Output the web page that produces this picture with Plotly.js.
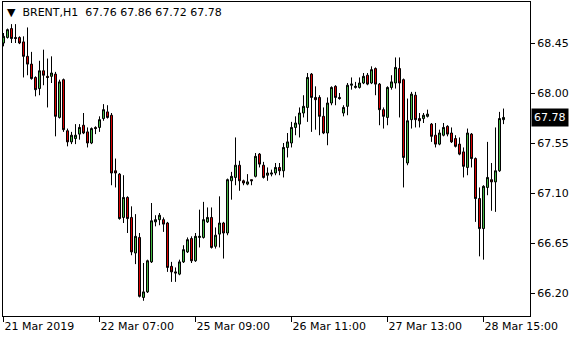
<!DOCTYPE html>
<html>
<head>
<meta charset="utf-8">
<script src="https://cdn.plot.ly/plotly-3.0.1.min.js"></script>
<style>
html,body{margin:0;padding:0;background:#fff;}
#chart{width:580px;height:340px;}
</style>
</head>
<body>
<div id="chart"></div>
<script>
// BRENT, H1 — hourly bars (bar index), 21 Mar 2019 .. 28 Mar 2019
const symbolTitle = "BRENT,H1";
const lastOHLC = ["67.76", "67.86", "67.72", "67.78"];

const open = [
 68.45,68.50,68.58,68.50,68.50,68.46,68.33,68.26,68.14,68.04,
 68.20,68.15,68.15,68.17,67.78,68.12,67.66,67.56,67.59,67.63,
 67.71,67.65,67.55,67.69,67.69,67.77,67.83,67.80,67.30,67.27,
 66.88,67.06,66.88,66.56,66.70,66.16,66.21,66.48,66.84,66.86,
 66.86,66.83,66.44,66.39,66.37,66.48,66.57,66.69,66.49,66.70,
 66.70,66.84,66.88,66.62,66.73,66.83,66.74,67.21,67.24,67.35,
 67.21,67.18,67.22,67.25,67.45,67.35,67.26,67.27,67.28,67.33,
 67.30,67.51,67.55,67.69,67.72,67.82,67.87,68.17,67.96,67.96,
 67.79,67.64,67.91,68.06,67.96,67.82,67.88,68.07,68.05,68.05,
 68.09,68.16,68.09,68.22,68.08,67.85,67.78,68.05,68.09,68.22,
 68.12,67.37,67.76,67.98,67.77,67.77,67.79,67.72,67.62,67.54,
 67.62,67.70,67.64,67.59,67.54,67.47,67.33,67.63,67.41,67.05,
 66.78,67.15,67.22,67.20,67.30,67.76
];
const high = [
 68.54,68.58,68.62,68.62,68.51,68.51,68.59,68.37,68.15,68.29,
 68.39,68.31,68.33,68.19,68.12,68.13,67.68,67.65,67.72,67.72,
 67.82,67.69,67.69,67.70,67.79,67.90,67.89,67.82,67.41,67.28,
 67.26,67.07,66.98,66.91,66.74,66.47,66.50,67.01,66.90,66.92,
 66.88,66.84,66.48,66.43,66.50,66.63,66.70,66.71,66.74,66.95,
 67.02,66.97,66.97,66.79,67.07,66.84,67.23,67.29,67.60,67.39,
 67.22,67.27,67.22,67.46,67.46,67.38,67.33,67.31,67.37,67.37,
 67.55,67.64,67.74,67.79,67.87,67.98,68.18,68.18,68.06,67.98,
 67.87,67.96,68.06,68.07,68.00,67.89,68.09,68.14,68.10,68.14,
 68.18,68.18,68.24,68.23,68.09,67.87,68.06,68.16,68.32,68.32,
 68.13,67.95,68.01,68.01,67.82,67.82,67.85,67.73,67.73,67.67,
 67.73,67.71,67.69,67.62,67.60,67.51,67.68,67.64,67.42,67.15,
 67.17,67.56,67.37,67.69,67.83,67.86
];
const low = [
 68.42,68.49,68.45,68.45,68.44,68.14,68.16,68.12,67.97,67.98,
 68.07,67.87,68.09,67.61,67.77,67.65,67.52,67.54,67.54,67.58,
 67.63,67.51,67.54,67.63,67.65,67.75,67.77,67.17,67.15,66.86,
 66.83,66.74,66.54,66.46,66.16,66.13,66.20,66.47,66.80,66.81,
 66.75,66.39,66.30,66.30,66.36,66.47,66.56,66.47,66.48,66.61,
 66.69,66.83,66.60,66.60,66.61,66.51,66.72,67.04,67.17,67.12,
 67.17,67.17,67.17,67.24,67.33,67.23,67.21,67.25,67.26,67.26,
 67.24,67.42,67.51,67.62,67.60,67.78,67.74,67.65,67.67,67.62,
 67.63,67.53,67.89,67.89,67.94,67.79,67.80,68.03,68.04,68.04,
 68.08,68.07,68.08,67.98,67.71,67.68,67.71,68.03,68.04,67.78,
 67.15,67.35,67.68,67.69,67.69,67.73,67.78,67.56,67.51,67.53,
 67.61,67.61,67.55,67.51,67.44,67.24,67.26,67.33,66.84,66.53,
 66.50,67.08,66.94,66.93,67.29,67.72
];
const close = [
 68.51,68.57,68.49,68.49,68.45,68.33,68.26,68.13,68.03,68.20,
 68.16,68.14,68.18,67.79,68.10,67.67,67.56,67.62,67.62,67.69,
 67.64,67.55,67.68,67.68,67.76,67.85,67.78,67.28,67.28,66.87,
 67.06,66.87,66.57,66.71,66.17,66.21,66.49,66.85,66.86,66.90,
 66.82,66.43,66.39,66.38,66.48,66.59,66.68,66.49,66.71,66.71,
 66.86,66.88,66.61,66.72,66.83,66.74,67.22,67.25,67.35,67.21,
 67.19,67.20,67.21,67.43,67.36,67.24,67.28,67.28,67.33,67.30,
 67.51,67.56,67.69,67.73,67.82,67.88,68.14,67.96,67.94,67.79,
 67.64,67.91,68.05,67.96,67.95,67.87,68.07,68.08,68.06,68.09,
 68.15,68.08,68.21,68.08,67.85,67.79,68.05,68.10,68.23,68.09,
 67.42,67.75,67.99,67.76,67.75,67.80,67.81,67.61,67.54,67.64,
 67.69,67.63,67.56,67.52,67.45,67.34,67.64,67.41,67.05,66.78,
 67.16,67.24,67.20,67.30,67.77,67.78
];

const tickBars = [0, 24, 48, 72, 96, 120];
const tickLabels = ["21 Mar 2019", "22 Mar 07:00", "25 Mar 09:00", "26 Mar 11:00", "27 Mar 13:00", "28 Mar 15:00"];
const priceTicks = [66.20, 66.65, 67.10, 67.55, 68.00, 68.45];

const bars = open.map((_, i) => i);
const FONT = "DejaVu Sans, sans-serif";

const trace = {
  type: "candlestick",
  x: bars, open: open, high: high, low: low, close: close,
  increasing: {line: {color: "#000000", width: 1}, fillcolor: "#44b944"},
  decreasing: {line: {color: "#000000", width: 1}, fillcolor: "#d80000"},
  whiskerwidth: 0,
  hoverinfo: "skip",
  showlegend: false
};

const layout = {
  width: 580, height: 340,
  margin: {l: 3, r: 50, t: 2, b: 24, pad: 0},
  paper_bgcolor: "#ffffff", plot_bgcolor: "#ffffff",
  font: {family: FONT, size: 11, color: "#000000"},
  boxgap: 0.5, boxgroupgap: 0,
  showlegend: false,
  hovermode: false,
  xaxis: {
    type: "linear",
    range: [-0.125, 131.625],
    rangeslider: {visible: false},
    showgrid: false, zeroline: false,
    showline: true, linecolor: "#000000", linewidth: 1, mirror: true,
    tickmode: "array", tickvals: tickBars, ticktext: tickLabels,
    ticks: "outside", ticklen: 5, tickcolor: "#000000", tickwidth: 1,
    ticklabelposition: "outside right",
    tickfont: {family: FONT, size: 11, color: "#000000"}
  },
  yaxis: {
    side: "right",
    range: [65.993, 68.819],
    showgrid: false, zeroline: false,
    showline: true, linecolor: "#000000", linewidth: 1, mirror: true,
    tickmode: "array", tickvals: priceTicks,
    ticktext: priceTicks.map(v => v.toFixed(2)),
    ticks: "outside", ticklen: 4, tickcolor: "#000000", tickwidth: 1,
    tickfont: {family: FONT, size: 11, color: "#000000"}
  },
  annotations: [
    {
      xref: "paper", yref: "paper", x: 0, y: 1, xanchor: "left", yanchor: "top",
      xshift: 2, yshift: -2, showarrow: false, align: "left",
      text: "▼&nbsp;&nbsp;" + symbolTitle + "&nbsp;&nbsp;" + lastOHLC.join(" "),
      font: {family: FONT, size: 11, color: "#000000"}
    },
    {
      xref: "paper", yref: "y", x: 1, y: close[close.length - 1],
      xanchor: "left", yanchor: "middle", xshift: 1, showarrow: false,
      text: close[close.length - 1].toFixed(2),
      bgcolor: "#000000", borderpad: 2,
      font: {family: FONT, size: 11, color: "#ffffff"}
    }
  ]
};

Plotly.newPlot("chart", [trace], layout, {staticPlot: true, displayModeBar: false});
</script>
</body>
</html>
